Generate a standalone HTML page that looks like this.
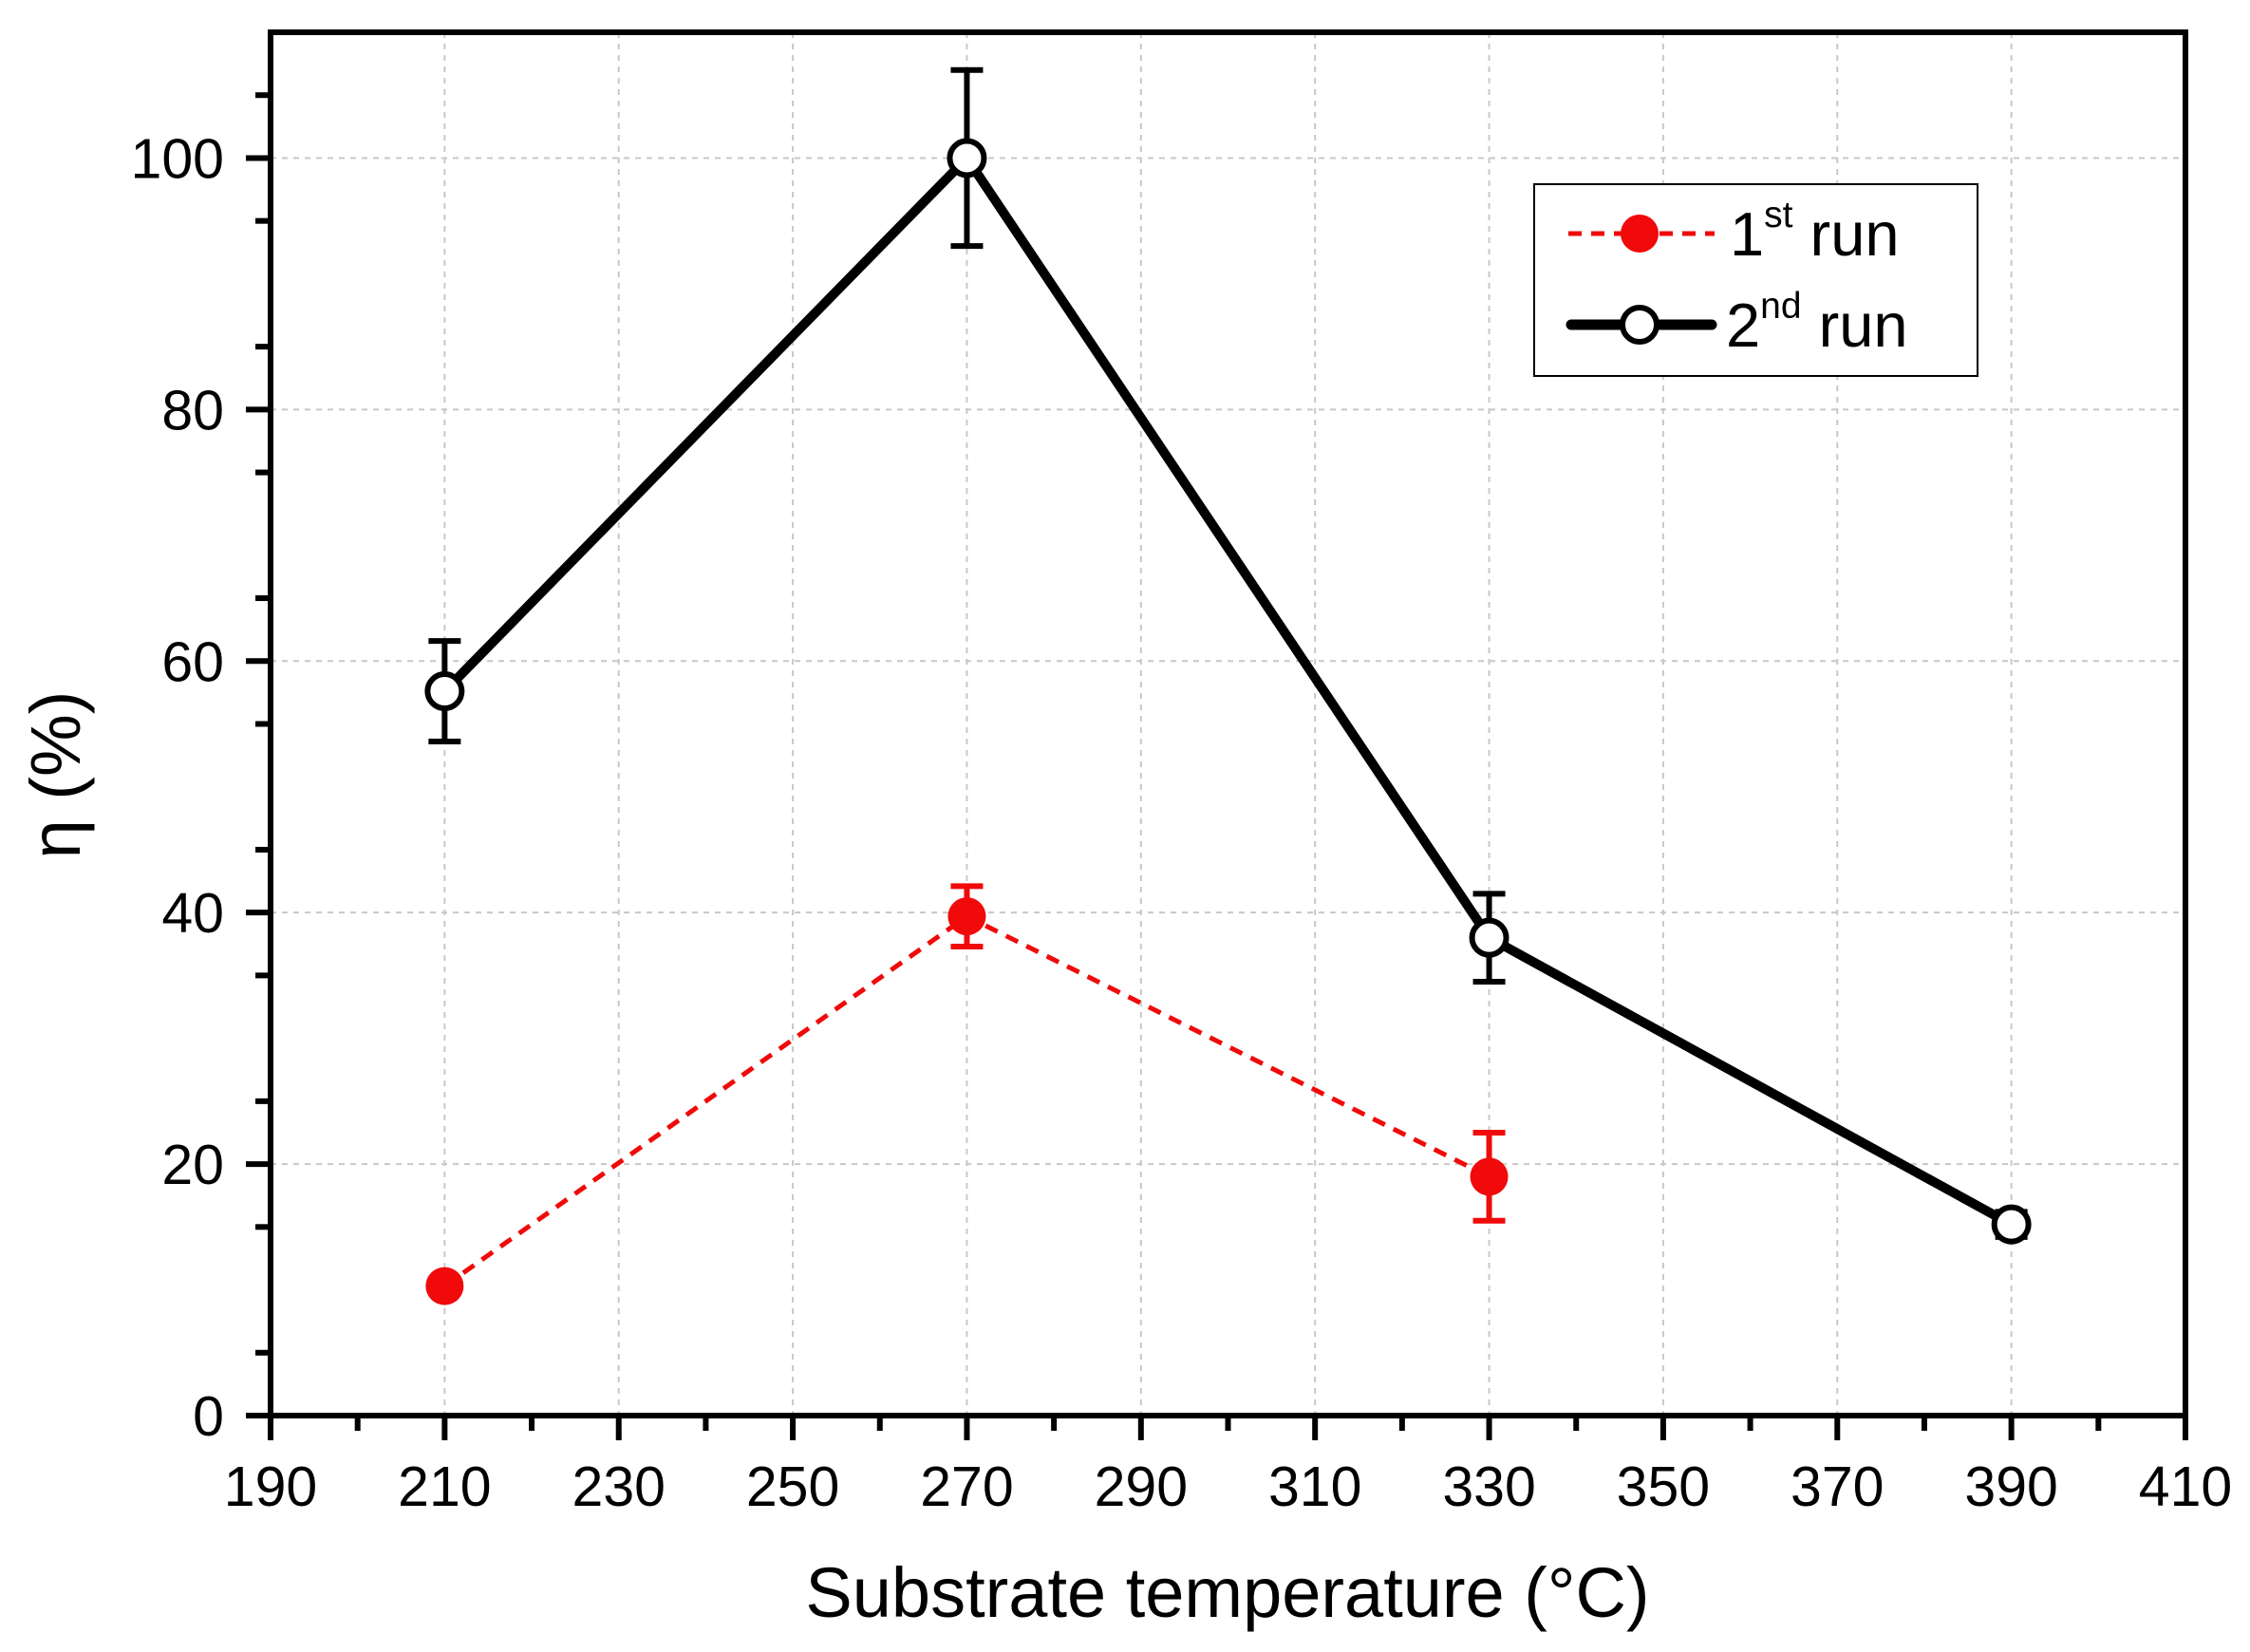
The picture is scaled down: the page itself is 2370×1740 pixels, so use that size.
<!DOCTYPE html>
<html><head><meta charset="utf-8"><style>
html,body{margin:0;padding:0;background:#fff;}
svg{display:block;font-family:"Liberation Sans",Arial,sans-serif;}
</style></head><body>
<svg id="chart" width="2370" height="1740" viewBox="0 0 2370 1740" xmlns="http://www.w3.org/2000/svg">
<g id="grid"></g>
<g id="axes"></g>
<g id="series"></g>
<text x="1293" y="1703" font-size="74" text-anchor="middle">Substrate temperature (°C)</text>
<text transform="translate(84,816) rotate(-90)" font-size="74" text-anchor="middle">η (%)</text>
<g>
<rect x="1616" y="194" width="467" height="202" fill="#fff" stroke="#000" stroke-width="2"/>
<g>
<line x1="1652" y1="246" x2="1806" y2="246" stroke="#f00a0a" stroke-width="5" stroke-dasharray="14,10"/>
<circle cx="1727" cy="246" r="20" fill="#f00a0a"/>
<text x="1822" y="269" font-size="65">1<tspan dy="-30" font-size="39">st</tspan><tspan dy="30"> run</tspan></text>
</g>
<g>
<line x1="1655" y1="342" x2="1803" y2="342" stroke="#000" stroke-width="11" stroke-linecap="round"/>
<circle cx="1727" cy="342" r="18" fill="#fff" stroke="#000" stroke-width="6"/>
<text x="1818" y="365" font-size="65">2<tspan dy="-30" font-size="39">nd</tspan><tspan dy="30"> run</tspan></text>
</g>
</g>
</svg>
<script>
const xTicks = [190,210,230,250,270,290,310,330,350,370,390,410];
const yTicks = [0,20,40,60,80,100];
const run1X = [210,270,330];
const run1Y = [10.3,39.7,19.0];
const run1Err = [0,2.4,3.5];
const run2X = [210,270,330,390];
const run2Y = [57.6,100,38.0,15.2];
const run2Err = [4.0,7.0,3.5,1.0];

const L=285,R=2302,T=34,B=1491;
const xMin=190,xMax=410,yMin=0,yMax=110;
const sx=v=>L+(v-xMin)/(xMax-xMin)*(R-L);
const sy=v=>B-(v-yMin)/(yMax-yMin)*(B-T);
const NS='http://www.w3.org/2000/svg';
function mk(tag,attrs,parent){const e=document.createElementNS(NS,tag);for(const k in attrs)e.setAttribute(k,attrs[k]);parent.appendChild(e);return e;}
const grid=document.getElementById('grid'),axes=document.getElementById('axes'),series=document.getElementById('series');

xTicks.forEach(v=>{
  if(v>xMin&&v<xMax){const g=mk('line',{x1:sx(v),x2:sx(v),y1:T,y2:B,stroke:'#c8c8c8','stroke-width':2,'stroke-dasharray':'6,6'},grid);
  
  }
  const t=mk('line',{x1:sx(v),x2:sx(v),y1:B,y2:B+26,stroke:'#000','stroke-width':6},axes);
  
  
  const lb=mk('text',{x:sx(v),y:1586,'font-size':59,'text-anchor':'middle'},axes);lb.textContent=v;
  
  
  if(v<xMax){const m=mk('line',{x1:sx(v+10),x2:sx(v+10),y1:B,y2:B+16,stroke:'#000','stroke-width':6},axes);
  
  }
});
yTicks.forEach(v=>{
  if(v>yMin){const g=mk('line',{x1:L,x2:R,y1:sy(v),y2:sy(v),stroke:'#c8c8c8','stroke-width':2,'stroke-dasharray':'6,6'},grid);
  
  }
  const t=mk('line',{x1:L-26,x2:L,y1:sy(v),y2:sy(v),stroke:'#000','stroke-width':6},axes);
  
  
  const lb=mk('text',{x:236,y:sy(v)+21,'font-size':59,'text-anchor':'end'},axes);lb.textContent=v;
  
  
});
for(let v=5;v<yMax;v+=10){const m=mk('line',{x1:L-16,x2:L,y1:sy(v),y2:sy(v),stroke:'#000','stroke-width':6},axes);
  
  }
const fr=mk('rect',{x:L,y:T,width:R-L,height:B-T,fill:'none',stroke:'#000','stroke-width':6},axes);



function errbars(xs,ys,es,color,name){
  xs.forEach((x,i)=>{if(!es[i])return;
    const g=mk('g',{stroke:color,'stroke-width':6},series);
    
    
    const cx=sx(x),y1=sy(ys[i]+es[i]),y2=sy(ys[i]-es[i]);
    mk('line',{x1:cx,x2:cx,y1:y1,y2:y2},g);
    mk('line',{x1:cx-17,x2:cx+17,y1:y1,y2:y1},g);
    mk('line',{x1:cx-17,x2:cx+17,y1:y2,y2:y2},g);
  });
}
// run 1
const p1=mk('polyline',{points:run1X.map((x,i)=>sx(x)+','+sy(run1Y[i])).join(' '),fill:'none',stroke:'#f00a0a','stroke-width':5,'stroke-dasharray':'14,10'},series);


errbars(run1X,run1Y,run1Err,'#f00a0a','run1');
run1X.forEach((x,i)=>{const c=mk('circle',{cx:sx(x),cy:sy(run1Y[i]),r:20,fill:'#f00a0a'},series);
  
  });
// run 2
const p2=mk('polyline',{points:run2X.map((x,i)=>sx(x)+','+sy(run2Y[i])).join(' '),fill:'none',stroke:'#000','stroke-width':10,'stroke-linejoin':'round'},series);


errbars(run2X,run2Y,run2Err,'#000','run2');
run2X.forEach((x,i)=>{const c=mk('circle',{cx:sx(x),cy:sy(run2Y[i]),r:18,fill:'#fff',stroke:'#000','stroke-width':6},series);
  
  });
</script>
</body></html>
